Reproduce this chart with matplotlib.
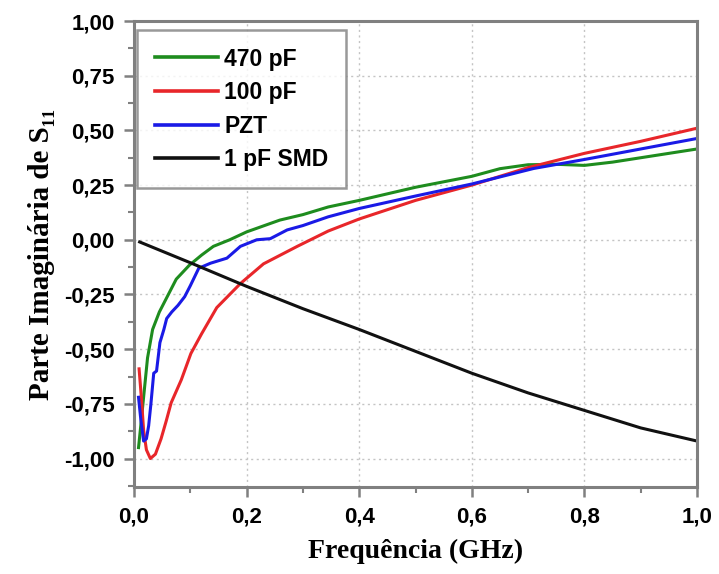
"""Parte imaginária de S11 versus frequência."""

import matplotlib
matplotlib.use("Agg")
import matplotlib.pyplot as plt
from matplotlib.ticker import FuncFormatter, MultipleLocator

# frequency (GHz) / imaginary part of S11
freq_470 = [0.008, 0.012, 0.017, 0.024, 0.033, 0.045, 0.059, 0.075, 0.098, 0.12, 0.141, 0.17,
            0.2, 0.259, 0.3, 0.345, 0.4, 0.5, 0.6, 0.65, 0.7, 0.75, 0.8, 0.85, 0.9, 0.95, 1.0]
imag_470 = [-0.95, -0.85, -0.72, -0.54, -0.41, -0.33, -0.26, -0.18, -0.117, -0.07, -0.03, 0.0,
            0.036, 0.09, 0.115, 0.15, 0.18, 0.24, 0.29, 0.325, 0.343, 0.345, 0.34, 0.355, 0.375, 0.395, 0.415]

freq_100 = [0.009, 0.013, 0.017, 0.022, 0.029, 0.038, 0.048, 0.057, 0.066, 0.084, 0.101, 0.12,
            0.147, 0.189, 0.23, 0.29, 0.345, 0.4, 0.5, 0.6, 0.7, 0.8, 0.9, 1.0]
imag_100 = [-0.59, -0.72, -0.87, -0.96, -1.0, -0.98, -0.91, -0.83, -0.745, -0.64, -0.52, -0.43,
            -0.31, -0.2, -0.11, -0.03, 0.04, 0.095, 0.18, 0.25, 0.33, 0.395, 0.45, 0.51]

freq_pzt = [0.008, 0.012, 0.017, 0.022, 0.026, 0.03, 0.035, 0.04, 0.046, 0.053, 0.058, 0.067,
            0.078, 0.09, 0.1, 0.115, 0.136, 0.165, 0.189, 0.218, 0.242, 0.272, 0.3, 0.345, 0.4,
            0.5, 0.6, 0.71, 0.8, 0.9, 1.0]
imag_pzt = [-0.72, -0.82, -0.92, -0.91, -0.85, -0.75, -0.61, -0.60, -0.47, -0.41, -0.36, -0.33,
            -0.30, -0.26, -0.21, -0.13, -0.107, -0.084, -0.03, 0.0, 0.005, 0.045, 0.065, 0.105, 0.143,
            0.2, 0.255, 0.326, 0.367, 0.415, 0.463]

freq_smd = [0.01, 0.1, 0.2, 0.3, 0.4, 0.5, 0.6, 0.7, 0.8, 0.9, 1.0]
imag_smd = [-0.01, -0.105, -0.213, -0.315, -0.41, -0.51, -0.61, -0.70, -0.78, -0.86, -0.92]

SERIES = [
    ("470 pF", freq_470, imag_470, "#1e8c1e"),
    ("100 pF", freq_100, imag_100, "#e8262a"),
    ("PZT", freq_pzt, imag_pzt, "#1a1ae6"),
    ("1 pF SMD", freq_smd, imag_smd, "#111111"),
]


def comma(decimals):
    return FuncFormatter(lambda v, _: f"{v:.{decimals}f}".replace(".", ","))


fig = plt.figure(figsize=(7.19, 5.74), dpi=100)
ax = fig.add_axes([0.1864, 0.1516, 0.783, 0.8118])

for label, x, y, color in SERIES:
    ax.plot(x, y, color=color, lw=2.2, label=label)

ax.set_xlim(0, 1.0)
ax.set_ylim(-1.13, 1.0)
ax.xaxis.set_major_locator(MultipleLocator(0.2))
ax.xaxis.set_minor_locator(MultipleLocator(0.1))
ax.yaxis.set_major_locator(MultipleLocator(0.25))
ax.yaxis.set_minor_locator(MultipleLocator(0.125))
ax.xaxis.set_major_formatter(comma(1))
ax.yaxis.set_major_formatter(comma(2))

ax.grid(True, which="major", color="#c4c4c4", ls=(0, (1.5, 2.5)), lw=1.0)
for spine in ax.spines.values():
    spine.set_color("#808080")
    spine.set_linewidth(2.2)
ax.tick_params(which="major", direction="out", length=7, width=1.8, color="#808080",
               top=False, right=False, pad=7)
ax.tick_params(which="minor", direction="out", length=4, width=1.5, color="#808080",
               top=False, right=False)
for lab in ax.get_xticklabels() + ax.get_yticklabels():
    lab.set_fontfamily("Liberation Sans")
    lab.set_fontweight("bold")
    lab.set_fontsize(16)

ax.set_xlabel("Frequência (GHz)", family=["Liberation Serif", "DejaVu Serif"],
              fontweight="bold", fontsize=20, labelpad=8)
ax.set_ylabel("Parte Imaginária de S₁₁", family=["Liberation Serif", "DejaVu Serif"],
              fontweight="bold", fontsize=21, labelpad=6)

leg = ax.legend(loc="upper left", bbox_to_anchor=(0.006, 0.980), frameon=True, fancybox=False,
                prop={"family": "Liberation Sans", "weight": "bold", "size": 16.5},
                handlelength=2.75, handletextpad=0.3, labelspacing=0.46, borderpad=0.75,
                borderaxespad=0.0)
leg.get_frame().set_edgecolor("#808080")
leg.get_frame().set_linewidth(1.8)
for line in leg.get_lines():
    line.set_linewidth(2.6)

fig.savefig("out.png", dpi=100)
